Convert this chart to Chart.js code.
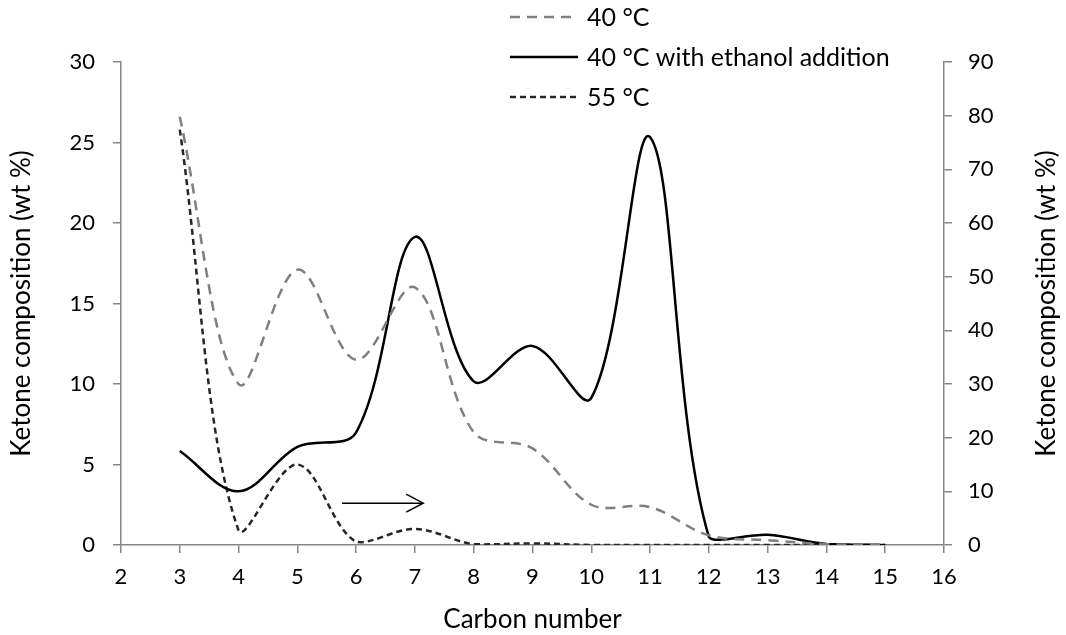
<!DOCTYPE html>
<html>
<head>
<meta charset="utf-8">
<script src="https://cdn.jsdelivr.net/npm/chart.js@4/dist/chart.umd.min.js"></script>
<style>
html,body{margin:0;padding:0;background:#fff;}
#wrap{width:1066px;height:635px;position:relative;}
</style>
</head>
<body>
<div id="wrap"><canvas id="c" width="1066" height="635"></canvas></div>
<script>
const carbonNumbers = [3, 4, 5, 6, 7, 8, 9, 10, 11, 12, 13, 14, 15];
const series40C = [26.6, 10.0, 17.1, 11.5, 16.0, 7.0, 6.0, 2.5, 2.35, 0.6, 0.3, 0.05, 0];
const series40CEthanol = [17.5, 10.0, 18.3, 21.0, 57.4, 30.5, 37.1, 27.4, 76.0, 1.5, 1.9, 0.2, 0];
const series55C = [25.8, 0.9, 5.0, 0.2, 1.0, 0.05, 0.1, 0, 0, 0, 0, 0, 0];
const leftTicks = [0, 5, 10, 15, 20, 25, 30];
const rightTicks = [0, 10, 20, 30, 40, 50, 60, 70, 80, 90];
const xTicks = [2, 3, 4, 5, 6, 7, 8, 9, 10, 11, 12, 13, 14, 15, 16];
const labels = ["40 °C", "40 °C with ethanol addition", "55 °C"];
const axisTitleX = "Carbon number";
const axisTitleY = "Ketone composition (wt %)";
const arrowFrom = {x: 5.76, y: 2.6};
const arrowTo = {x: 7.14, y: 2.6};

const FONT = "Lato, 'Open Sans', sans-serif";
const AXIS = "#868686";

const toPts = (vals) => carbonNumbers.map((c, i) => ({x: c, y: vals[i]}));

const overlay = {
  id: 'overlay',
  afterDatasetsDraw(chart) {
    const ctx = chart.ctx;
    const xs = chart.scales.x, yl = chart.scales.y;
    // arrow
    const x0 = xs.getPixelForValue(arrowFrom.x), x1 = xs.getPixelForValue(arrowTo.x);
    const y0 = yl.getPixelForValue(arrowFrom.y);
    ctx.save();
    ctx.strokeStyle = '#000'; ctx.lineWidth = 1.5;
    ctx.beginPath(); ctx.moveTo(x0, y0); ctx.lineTo(x1, y0); ctx.stroke();
    ctx.beginPath(); ctx.moveTo(x1 - 17, y0 - 9); ctx.lineTo(x1, y0); ctx.lineTo(x1 - 17, y0 + 9); ctx.stroke();
    // legend
    const rows = [17, 57, 97];
    chart.data.datasets.forEach((ds, i) => {
      const y = rows[i];
      ctx.strokeStyle = ds.borderColor; ctx.lineWidth = ds.borderWidth;
      ctx.setLineDash(ds.borderDash || []);
      ctx.beginPath(); ctx.moveTo(510, y); ctx.lineTo(578, y); ctx.stroke();
      ctx.setLineDash([]);
      ctx.fillStyle = '#000';
      ctx.font = "25px " + FONT;
      ctx.textBaseline = 'middle'; ctx.textAlign = 'left';
      ctx.fillText(ds.label, 587, y + 1);
    });
    // right axis title (reads bottom-to-top)
    const yr = chart.scales.y1;
    ctx.translate(1047, (yr.top + yr.bottom) / 2);
    ctx.rotate(-Math.PI / 2);
    ctx.textAlign = 'center'; ctx.textBaseline = 'middle';
    ctx.font = "26px " + FONT;
    ctx.fillText(axisTitleY, 0, 0);
    ctx.restore();
  }
};

new Chart(document.getElementById('c'), {
  type: 'line',
  data: {
    datasets: [
      {label: labels[0], data: toPts(series40C), yAxisID: 'y', borderColor: '#7f7f7f', borderWidth: 2.5, borderDash: [10, 7], pointRadius: 0, tension: 0.35, fill: false},
      {label: labels[1], data: toPts(series40CEthanol), yAxisID: 'y1', borderColor: '#000000', borderWidth: 2.5, pointRadius: 0, tension: 0.35, fill: false},
      {label: labels[2], data: toPts(series55C), yAxisID: 'y', borderColor: '#262626', borderWidth: 2.5, borderDash: [6, 4], pointRadius: 0, tension: 0.35, fill: false}
    ]
  },
  options: {
    responsive: false,
    animation: false,
    layout: {padding: {top: 62, left: 0, right: 0, bottom: 0}},
    plugins: {legend: {display: false}, tooltip: {enabled: false}},
    scales: {
      x: {
        type: 'linear', min: 2, max: 16,
        afterBuildTicks: (s) => { s.ticks = xTicks.map(v => ({value: v})); },
        afterFit: (s) => { s.height = 90; },
        grid: {drawOnChartArea: false, drawTicks: true, tickLength: 8, color: AXIS, lineWidth: 1.5},
        border: {color: AXIS, width: 1.5},
        ticks: {color: '#000', font: {family: FONT, size: 22}, padding: 11, maxRotation: 0},
        title: {display: true, text: axisTitleX, color: '#000', font: {family: FONT, size: 26}, padding: {top: 0, bottom: 0}}
      },
      y: {
        position: 'left', min: 0, max: 30,
        afterBuildTicks: (s) => { s.ticks = leftTicks.map(v => ({value: v})); },
        afterFit: (s) => { s.width = 121; },
        grid: {drawOnChartArea: false, drawTicks: true, tickLength: 8, color: AXIS, lineWidth: 1.5},
        border: {color: AXIS, width: 1.5},
        ticks: {color: '#000', font: {family: FONT, size: 22}, padding: 18},
        title: {display: true, text: axisTitleY, color: '#000', font: {family: FONT, size: 26}, padding: {top: 6, bottom: 0}}
      },
      y1: {
        position: 'right', min: 0, max: 90,
        afterBuildTicks: (s) => { s.ticks = rightTicks.map(v => ({value: v})); },
        afterFit: (s) => { s.width = 122; },
        grid: {drawOnChartArea: false, drawTicks: true, tickLength: 8, color: AXIS, lineWidth: 1.5},
        border: {color: AXIS, width: 1.5},
        ticks: {color: '#000', font: {family: FONT, size: 22}, padding: 16}
      }
    }
  },
  plugins: [overlay]
});
</script>
</body>
</html>
